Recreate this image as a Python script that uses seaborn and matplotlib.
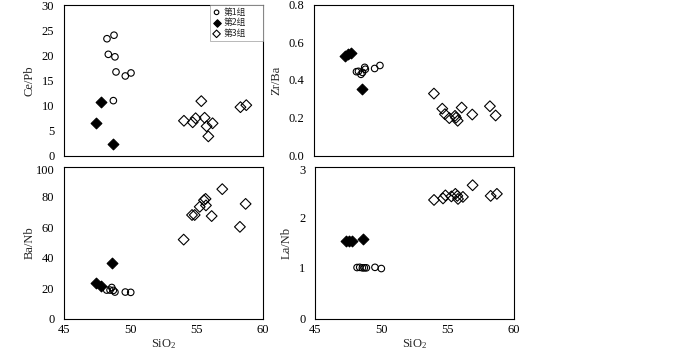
import numpy as np
import pandas as pd
import matplotlib
matplotlib.use("Agg")
import matplotlib.pyplot as plt
from matplotlib.ticker import MultipleLocator, FixedLocator
import seaborn as sns

sns.set_theme(style="white")
plt.rcParams['font.family'] = ['Liberation Serif', 'Noto Sans CJK SC', 'DejaVu Sans']
plt.rcParams['mathtext.fontset'] = 'custom'
plt.rcParams['mathtext.rm'] = 'Liberation Serif'
plt.rcParams['mathtext.it'] = 'Liberation Serif:italic'

group_labels = ["第1组", "第2组", "第3组"]

# ---- Ce/Pb ----
cepb_g1_x = [48.24, 48.77, 48.34, 48.84, 48.92, 49.62, 50.05, 48.72]
cepb_g1_y = [23.3, 24.0, 20.2, 19.7, 16.7, 15.9, 16.5, 11.0]
cepb_g2_x = [47.80, 47.41, 48.67]
cepb_g2_y = [10.7, 6.5, 2.4]
cepb_g3_x = [54.04, 54.70, 54.92, 55.35, 55.60, 55.75, 56.20, 55.88, 58.30, 58.74]
cepb_g3_y = [7.0, 6.7, 7.5, 10.9, 7.6, 5.9, 6.5, 3.9, 9.7, 10.1]

# ---- Zr/Ba ----
zrba_g1_x = [48.20, 48.35, 48.54, 48.66, 48.82, 48.87, 49.57, 49.97]
zrba_g1_y = [0.444, 0.446, 0.430, 0.440, 0.467, 0.457, 0.461, 0.477]
zrba_g2_x = [47.36, 47.60, 47.76, 48.62]
zrba_g2_y = [0.525, 0.539, 0.545, 0.352]
zrba_g3_x = [54.04, 54.67, 54.87, 55.20, 55.63, 55.70, 55.83, 56.13, 56.93, 58.26, 58.69]
zrba_g3_y = [0.328, 0.248, 0.219, 0.198, 0.210, 0.200, 0.184, 0.254, 0.217, 0.261, 0.212]

# ---- Ba/Nb ----
banb_g1_x = [48.22, 48.47, 48.60, 48.72, 48.84, 49.62, 50.03]
banb_g1_y = [18.7, 18.7, 20.4, 18.5, 17.4, 17.4, 17.2]
banb_g2_x = [47.41, 47.76, 48.59]
banb_g2_y = [23.2, 21.7, 36.2]
banb_g3_x = [54.02, 54.65, 54.85, 55.23, 55.55, 55.67, 55.70, 56.13, 56.93, 58.26, 58.69]
banb_g3_y = [51.9, 68.1, 68.1, 73.5, 77.8, 78.7, 74.4, 67.4, 85.1, 60.3, 75.4]

# ---- La/Nb ----
lanb_g1_x = [48.17, 48.37, 48.57, 48.72, 48.87, 49.52, 50.00]
lanb_g1_y = [1.006, 1.01, 1.00, 1.00, 1.00, 1.01, 0.986]
lanb_g2_x = [47.31, 47.56, 47.77, 48.60]
lanb_g2_y = [1.52, 1.52, 1.52, 1.56]
lanb_g3_x = [53.97, 54.65, 54.83, 55.28, 55.58, 55.73, 55.78, 56.15, 56.88, 58.24, 58.71]
lanb_g3_y = [2.34, 2.37, 2.43, 2.41, 2.46, 2.42, 2.36, 2.40, 2.63, 2.42, 2.46]

x_ticks = [45, 50, 55, 60]

panels = [
    dict(ylabel="Ce/Pb", ylim=(0, 30), yticks=[0, 5, 10, 15, 20, 25, 30], fmt="{:g}",
         data=[(cepb_g1_x, cepb_g1_y), (cepb_g2_x, cepb_g2_y), (cepb_g3_x, cepb_g3_y)],
         pos=[64/700, 1-156/354, 199/700, 151/354], xlabels=False, legend=True),
    dict(ylabel="Zr/Ba", ylim=(0, 0.8), yticks=[0, 0.2, 0.4, 0.6, 0.8], fmt="{:.1f}",
         data=[(zrba_g1_x, zrba_g1_y), (zrba_g2_x, zrba_g2_y), (zrba_g3_x, zrba_g3_y)],
         pos=[314/700, 1-155.5/354, 199/700, 151/354], xlabels=False, legend=False),
    dict(ylabel="Ba/Nb", ylim=(0, 100), yticks=[0, 20, 40, 60, 80, 100], fmt="{:g}",
         data=[(banb_g1_x, banb_g1_y), (banb_g2_x, banb_g2_y), (banb_g3_x, banb_g3_y)],
         pos=[64/700, 1-318.5/354, 199/700, 152/354], xlabels=True, legend=False),
    dict(ylabel="La/Nb", ylim=(0, 3), yticks=[0, 1, 2, 3], fmt="{:g}",
         data=[(lanb_g1_x, lanb_g1_y), (lanb_g2_x, lanb_g2_y), (lanb_g3_x, lanb_g3_y)],
         pos=[315/700, 1-318.5/354, 199/700, 152/354], xlabels=True, legend=False),
]

styles = [
    dict(marker="o", s=22, facecolor="none", edgecolor="black", linewidth=0.8),
    dict(marker="D", s=30, facecolor="black", edgecolor="black", linewidth=0.8),
    dict(marker="D", s=30, facecolor="none", edgecolor="black", linewidth=0.8),
]

fig = plt.figure(figsize=(7.0, 3.54), dpi=100)
tick_fs = 9

for p in panels:
    ax = fig.add_axes(p["pos"])
    for (gx, gy), st, lab in zip(p["data"], styles, group_labels):
        df = pd.DataFrame({"x": gx, "y": gy})
        sns.scatterplot(data=df, x="x", y="y", ax=ax, label=lab, color="black", **st)
    ax.set_xlim(45, 60)
    ax.set_ylim(*p["ylim"])
    ax.xaxis.set_major_locator(FixedLocator(x_ticks))
    ax.xaxis.set_minor_locator(MultipleLocator(1))
    ax.set_yticks(p["yticks"])
    labels = [p["fmt"].format(v) for v in p["yticks"]]
    if p["xlabels"]:
        # top label drawn slightly lower, as in the reference
        top_lab = labels[-1]
        labels[-1] = ""
        ax.annotate(top_lab, xy=(0, p["yticks"][-1]), xycoords=("axes fraction", "data"),
                    xytext=(-7, -3), textcoords="offset points",
                    ha="right", va="center", fontsize=tick_fs, color="black")
    ax.set_yticklabels(labels, fontsize=tick_fs)
    ax.tick_params(axis="both", which="both", direction="in", color="0.6",
                   length=3, width=0.6, labelcolor="black")
    ax.tick_params(axis="y", pad=7)
    ax.tick_params(axis="x", pad=4)
    if p["xlabels"]:
        ax.set_xticklabels([str(v) for v in x_ticks], fontsize=tick_fs)
        ax.set_xlabel(r"SiO$_\mathrm{2}$", fontsize=tick_fs, labelpad=1)
    else:
        ax.set_xticklabels([])
        ax.set_xlabel("")
    ax.set_ylabel(p["ylabel"], fontsize=tick_fs, labelpad=4.5)
    for sp in ax.spines.values():
        sp.set_color("black")
        sp.set_linewidth(0.8)
    if p["legend"]:
        x0 = (210 - 64) / 199
        leg = ax.legend(loc="upper left", bbox_to_anchor=(x0, 1.0, 1.0 - x0, 0.0),
                        mode="expand", borderaxespad=0,
                        fancybox=False, frameon=True, edgecolor="0.6",
                        prop={"family": ["Noto Sans CJK SC", "DejaVu Sans"], "size": 6.3},
                        handletextpad=0.3, labelspacing=0.2, borderpad=0.3,
                        handlelength=0.9, markerscale=0.7)
        leg.get_frame().set_linewidth(0.6)
    else:
        lg = ax.get_legend()
        if lg is not None:
            lg.remove()

fig.savefig("out.png", dpi=100)
